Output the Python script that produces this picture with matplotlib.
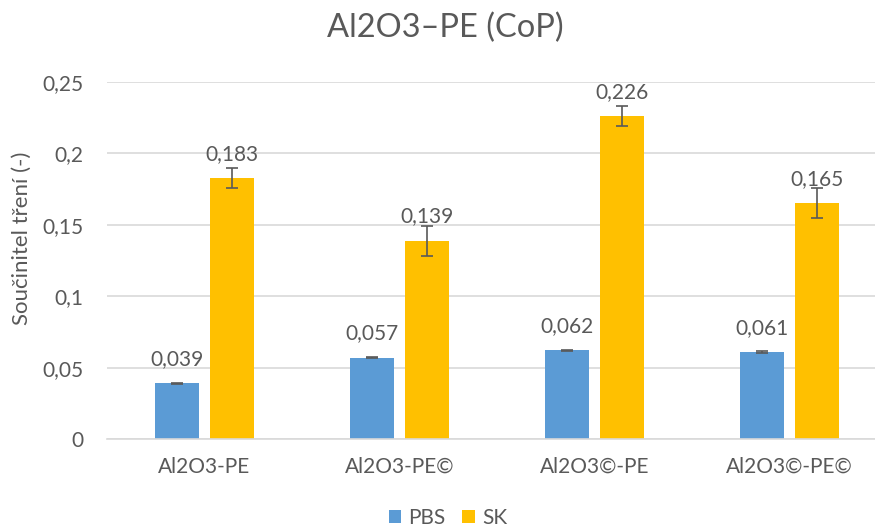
import numpy as np
import matplotlib
matplotlib.use("Agg")
import matplotlib.pyplot as plt

categories = ["Al2O3-PE", "Al2O3-PE©", "Al2O3©-PE", "Al2O3©-PE©"]
pbs = [0.039, 0.057, 0.062, 0.061]
sk = [0.183, 0.139, 0.226, 0.165]
pbs_err = [0.0005, 0.0005, 0.0005, 0.0005]
sk_err = [0.007, 0.0105, 0.007, 0.0105]
yticks = [0, 0.05, 0.1, 0.15, 0.2, 0.25]
ytick_labels = ["0", "0,05", "0,1", "0,15", "0,2", "0,25"]

plt.rcParams["font.family"] = ["Lato", "DejaVu Sans"]
text_col = "#595959"
grid_col = "#d9d9d9"
fs = 15

fig = plt.figure(figsize=(8.75, 5.3), dpi=100)
ax = fig.add_axes([107 / 875, 91 / 530, 780 / 875, 357 / 530])

x = np.arange(len(categories))
w = 0.226
off = 0.141
b1 = ax.bar(x - off, pbs, w, color="#5b9bd5", label="PBS", zorder=2)
b2 = ax.bar(x + off, sk, w, color="#ffc000", label="SK", zorder=2)
ax.errorbar(x - off, pbs, yerr=pbs_err, fmt="none", ecolor="#595959",
            elinewidth=1.2, capsize=4, capthick=1.2, zorder=3)
ax.errorbar(x + off, sk, yerr=sk_err, fmt="none", ecolor="#595959",
            elinewidth=1.2, capsize=4, capthick=1.2, zorder=3)

# value labels above each bar, decimal comma
for bars, vals in ((b1, pbs), (b2, sk)):
    for rect, v in zip(bars, vals):
        ax.annotate(f"{v:.3f}".replace(".", ","),
                    (rect.get_x() + rect.get_width() / 2, v),
                    xytext=(0, 13), textcoords="offset points",
                    ha="center", va="baseline", fontsize=fs, color=text_col)

ax.set_xlim(-0.5, 3.5)
ax.set_ylim(0, 0.25)
ax.set_yticks(yticks)
ax.set_yticklabels(ytick_labels)
ax.set_xticks(x)
ax.set_xticklabels(categories)
ax.tick_params(axis="both", length=0, labelsize=fs, colors=text_col)
ax.tick_params(axis="y", pad=17)
ax.tick_params(axis="x", pad=13)
ax.grid(axis="y", color=grid_col, linewidth=1.2, zorder=0)
for s in ("top", "right", "left"):
    ax.spines[s].set_visible(False)
ax.spines["bottom"].set_color(grid_col)
ax.spines["bottom"].set_linewidth(1.2)

fig.text(22 / 875, (530 - 238) / 530, "Součinitel tření (-)", rotation=90,
         ha="center", va="center", fontsize=16, color=text_col)

fig.text(445 / 875, 1 - 28 / 530, "Al2O3–PE (CoP)", ha="center", va="center",
         fontsize=23.5, color=text_col)

fig.legend(handles=[b1, b2], loc="center", bbox_to_anchor=(448 / 875, 12 / 530),
           ncol=2, frameon=False, fontsize=fs, labelcolor=text_col,
           handlelength=0.6, handleheight=0.6, handletextpad=0.35,
           columnspacing=0.8)

fig.savefig("out.png", dpi=100)
